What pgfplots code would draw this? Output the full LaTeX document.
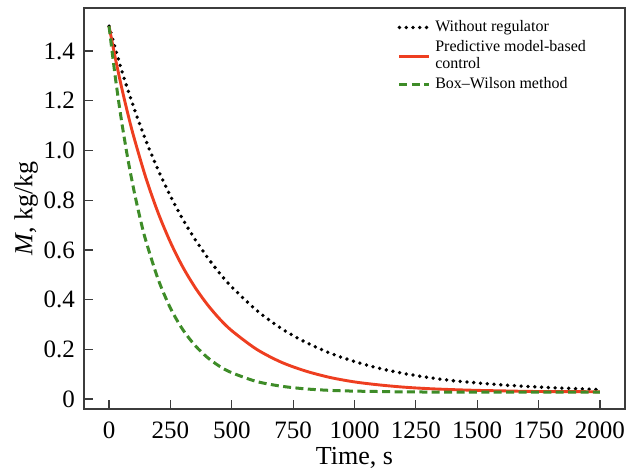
\documentclass[border=0pt]{standalone}
\usepackage{pgfplots}
\pgfplotsset{compat=1.18}
\usepackage{fontspec}
\setmainfont{Liberation Serif}
\definecolor{mpcred}{RGB}{238,62,32}
\definecolor{bwgreen}{RGB}{62,140,40}
\definecolor{framegray}{RGB}{60,60,60}
\begin{document}
\begin{tikzpicture}
\begin{axis}[
    scale only axis,
    width=270.5pt,
    height=200.5pt,
    xmin=-102, xmax=2102,
    ymin=-0.04, ymax=1.573,
    xtick={0,250,...,2000},
    ytick={0,0.2,0.4,0.6,0.8,1.0,1.2,1.4},
    yticklabels={0,0.2,0.4,0.6,0.8,1.0,1.2,1.4},
    tick align=inside,
    xtick pos=bottom,
    ytick pos=left,
    major tick length=4.5pt,
    axis line style={framegray, line width=0.75pt},
    every tick/.style={framegray, line width=0.6pt},
    /pgf/number format/assume math mode=true,
    /pgf/number format/1000 sep={},
    tick label style={font=\fontsize{12.5}{13}\selectfont},
    xticklabel style={yshift=-3pt},
    yticklabel style={xshift=-1pt},
    label style={font=\fontsize{13}{14}\selectfont},
    xlabel={Time, s},
    ylabel={\textit{M}, kg/kg},
    xlabel style={yshift=2.5pt},
    ylabel style={yshift=-4pt},
    legend style={
        at={(0.575,0.985)}, anchor=north west,
        draw=none, fill=none,
        font=\fontsize{8}{8.5}\selectfont,
        cells={anchor=west, align=left},
        row sep=-1pt,
        inner sep=1pt,
    },
    legend image code/.code={\draw[#1] (0pt,0pt) -- (15pt,0pt);},
]
\addplot[black, line width=1.9pt, line cap=round, dash pattern=on 0pt off 3.4pt, smooth] coordinates {
(0,1.500) (50,1.327) (100,1.175) (150,1.040) (200,0.922) (250,0.817)
(300,0.724) (350,0.643) (400,0.571) (450,0.507) (500,0.451) (600,0.358)
(700,0.285) (800,0.229) (900,0.185) (1000,0.151) (1100,0.124) (1200,0.103)
(1300,0.087) (1400,0.074) (1500,0.065) (1600,0.057) (1700,0.051) (1800,0.046)
(1900,0.042) (2000,0.038)
};
\addlegendentry{Without regulator}
\addplot[mpcred, line width=1.45pt, smooth] coordinates {
(0,1.500) (25,1.374) (50,1.259) (75,1.154) (100,1.058) (150,0.890)
(200,0.749) (250,0.631) (300,0.532) (350,0.450) (400,0.381) (450,0.323)
(500,0.275) (600,0.201) (700,0.149) (800,0.113) (900,0.087) (1000,0.069)
(1100,0.057) (1200,0.048) (1300,0.042) (1400,0.038) (1500,0.035) (1600,0.033)
(1700,0.031) (1800,0.030) (1900,0.030) (2000,0.029)
};
\addlegendentry{Predictive model-based\\control}
\addplot[bwgreen, line width=1.5pt, dash pattern=on 4pt off 2.2pt, smooth] coordinates {
(0,1.500) (25,1.299) (50,1.125) (75,0.975) (100,0.846) (125,0.734)
(150,0.637) (200,0.482) (250,0.366) (300,0.280) (350,0.216) (400,0.168)
(450,0.132) (500,0.106) (600,0.071) (700,0.052) (800,0.041) (900,0.035)
(1000,0.032) (1200,0.029) (1400,0.028) (1700,0.028) (2000,0.028)
};
\addlegendentry{Box--Wilson method}
\end{axis}
\path ([xshift=-42pt,yshift=-28.5pt]current axis.south west);
\path ([xshift=5pt,yshift=4pt]current axis.north east);
\end{tikzpicture}
\end{document}
